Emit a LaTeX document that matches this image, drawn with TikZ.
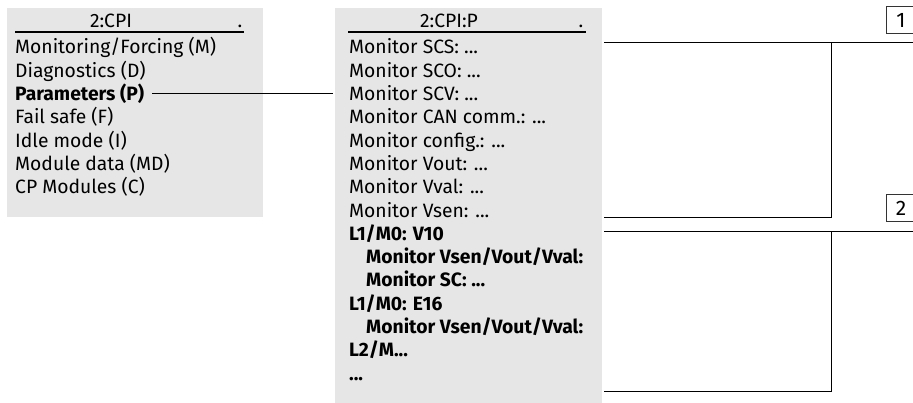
\documentclass[tikz,border=0pt]{standalone}
\usepackage{fontspec}
\setmainfont{Fira Sans}
\usetikzlibrary{positioning}
\definecolor{menugray}{HTML}{E6E6E6}
\tikzset{
  menu/.style={fill=menugray, draw=none, inner sep=0pt, anchor=north west},
  item/.style={inner sep=0pt, anchor=base west, font=\fontsize{19.3}{22}\selectfont},
  bitem/.style={item, font=\fontsize{19.3}{22}\selectfont\bfseries},
  head/.style={inner sep=0pt, anchor=base, font=\fontsize{19.3}{22}\selectfont},
  tag/.style={draw=black!80, line width=0.8pt, minimum width=30pt, minimum height=27pt, inner sep=0pt, font=\fontsize{21}{24}\selectfont},
  link/.style={line width=1pt}
}
\begin{document}
\begin{tikzpicture}[x=1pt,y=-1pt]
\useasboundingbox (0,0) rectangle (913,403);

\node[menu, minimum width=256pt, minimum height=209pt] (cpibox) at (7,8) {};
\node[menu, minimum width=267pt, minimum height=400pt] (pbox) at (335,8) {};

\node[head] (cpi) at (111,28) {2:CPI};
\node[head] (cpidot) at (240,28) {.};
\draw[line width=1.2pt] (15,32) -- (244,32);
\node[item] (mon) at (15,54) {Monitoring/Forcing (M)};
\node[item] (diag) at (15,77.3) {Diagnostics (D)};
\node[bitem] (param) at (15,100.6) {Parameters (P)};
\node[item] (fail) at (15,123.9) {Fail safe (F)};
\node[item] (idle) at (15,147.2) {Idle mode (I)};
\node[item] (mdata) at (15,170.5) {Module data (MD)};
\node[item] (cpmod) at (15,193.8) {CP Modules (C)};

\node[head] (cpip) at (449,28) {2:CPI:P};
\node[head] (cpipdot) at (581,28) {.};
\draw[line width=1.2pt] (348,32) -- (586,32);
\node[item] (scs) at (349,54) {Monitor SCS: ...};
\node[item] (sco) at (349,77.3) {Monitor SCO: ...};
\node[item] (scv) at (349,100.6) {Monitor SCV: ...};
\node[item] (can) at (349,123.9) {Monitor CAN comm.: ...};
\node[item] (config) at (349,147.2) {Monitor config.: ...};
\node[item] (vout) at (349,170.5) {Monitor Vout: ...};
\node[item] (vval) at (349,193.8) {Monitor Vval: ...};
\node[item] (vsen) at (349,217.1) {Monitor Vsen: ...};
\node[bitem] (vten) at (349,240.4) {L1/M0: V10};
\node[bitem] (vtenmon) at (366,263.7) {Monitor Vsen/Vout/Vval:};
\node[bitem] (vtensc) at (366,287) {Monitor SC: ...};
\node[bitem] (esix) at (349,310.3) {L1/M0: E16};
\node[bitem] (esixmon) at (366,333.6) {Monitor Vsen/Vout/Vval:};
\node[bitem] (ltwo) at (349,356.9) {L2/M...};
\node[bitem] (more) at (349,380.2) {...};

\node[tag] (one) at (901,20) {1};
\node[tag] (two) at (901,208) {2};

\draw[link] ([xshift=8pt]param.east) -- ([xshift=-2pt]pbox.west |- param.east);

\coordinate (s1) at (604,43);
\coordinate (j1) at (831,43);
\coordinate (e1) at (604,217.5);
\coordinate (s2) at (604,232);
\coordinate (j2) at (831,232);
\coordinate (e2) at (604,391);
\draw[link] (s1) -- (s1 -| one.east);
\draw[link] (j1) |- (e1);
\draw[link] (s2) -- (s2 -| two.east);
\draw[link] (j2) |- (e2);
\end{tikzpicture}
\end{document}
